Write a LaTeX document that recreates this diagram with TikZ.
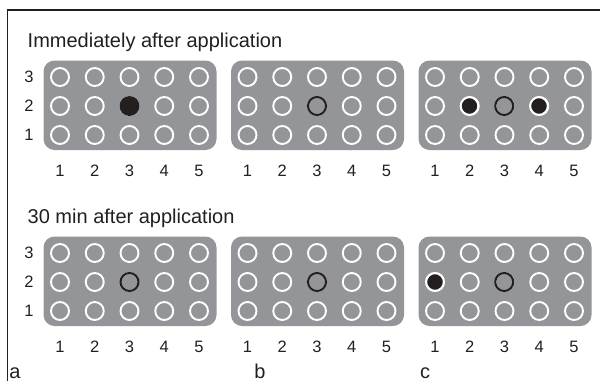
\documentclass[tikz,border=0pt]{standalone}
\usepackage{fontspec}
\setmainfont{Liberation Sans}
\definecolor{panelgray}{HTML}{939598}
\definecolor{ink}{HTML}{231F20}
\begin{document}
\begin{tikzpicture}[x=1pt,y=-1pt,
  panel/.style={fill=panelgray,rounded corners=11pt},
  well/.style={draw=white,line width=1.9pt},
  ring/.style={draw=ink,line width=2.1pt},
  dotb/.style={fill=ink},
  dotw/.style={fill=ink,draw=white,line width=1.9pt},
  lbl/.style={font=\fontsize{16.5}{18}\selectfont,inner sep=0pt,text=ink},
  ttl/.style={font=\fontsize{20}{24}\selectfont,inner sep=0pt,anchor=base west,text=ink},
  letter/.style={font=\fontsize{20}{24}\selectfont,inner sep=0pt,anchor=base,text=ink},
]
\useasboundingbox (0,0) rectangle (600,381);
\draw[ink,line width=1.2pt] (7.5,381) -- (7.5,10) -- (600,10);

\foreach \dx in {0,187.5,375} {
  \foreach \dy in {0,176} {
    \fill[panel] (43.5+\dx,60.5+\dy) rectangle (216.5+\dx,150+\dy);
    \foreach \c in {1,...,5} {
      \foreach \r in {1,2,3} {
        \draw[well] (60+34.75*\c-34.75+\dx, 164-29*\r+\dy) circle[radius=9];
      }
      \node[lbl,anchor=base] (col-\c-\dx-\dy) at (60+34.75*\c-34.75+\dx,176.5+\dy) {\c};
    }
  }
}
% row labels
\foreach \dy/\n in {0/t,176/b} {
  \foreach \r in {1,2,3} {
    \node[lbl] (row-\n-\r) at (29,164-29*\r+\dy) {\r};
  }
}
% titles
\node[ttl] (title1) at (27.5,47.5) {Immediately after application};
\node[ttl] (title2) at (27.5,223.5) {30 min after application};
% panel letters
\node[letter] (la) at (15,378) {a};
\node[letter] (lb) at (260,378) {b};
\node[letter] (lc) at (425,378) {c};

% special wells, top row of panels
\fill[dotb] (129.5,106) circle[radius=10];
\draw[ring] (317,106) circle[radius=9];
\draw[dotw] (469.5,106) circle[radius=8.8];
\draw[ring] (504.25,106) circle[radius=9];
\draw[dotw] (539,106) circle[radius=8.8];
% bottom row of panels
\draw[ring] (129.5,282) circle[radius=9];
\draw[ring] (317,282) circle[radius=9];
\draw[dotw] (435,282) circle[radius=8.8];
\draw[ring] (504.25,282) circle[radius=9];
\end{tikzpicture}
\end{document}
